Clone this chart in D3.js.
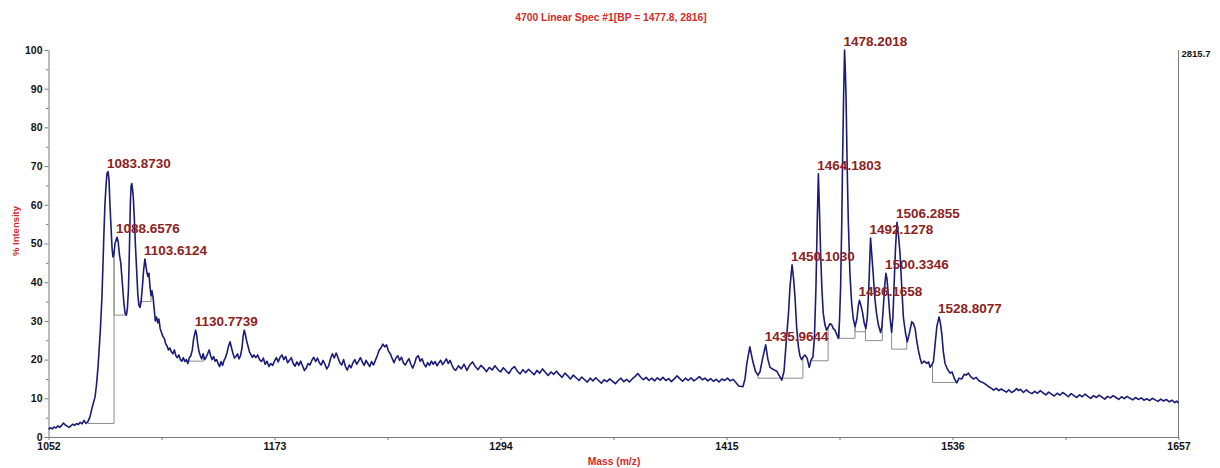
<!DOCTYPE html>
<html>
<head>
<meta charset="utf-8">
<script src="https://cdn.jsdelivr.net/npm/d3@7/dist/d3.min.js"></script>
<style>
  html, body { margin: 0; padding: 0; background: #fff; }
  svg { display: block; font-family: "Liberation Sans", Arial, sans-serif; }
</style>
</head>
<body>
<svg id="chart" width="1220" height="468"></svg>
<script>
// ---- data -------------------------------------------------------------
const titleText = "4700 Linear Spec #1[BP = 1477.8, 2816]";
const xTitle = "Mass (m/z)";
const yTitle = "% Intensity";
const rightLabel = "2815.7";

const xTicks = [1052, 1173, 1294, 1415, 1536, 1657];
const yTicks = [0, 10, 20, 30, 40, 50, 60, 70, 80, 90, 100];

// labelled peaks: [m/z, % intensity]
const peaks = [
  [1083.8730, 68.6], [1088.6576, 51.6], [1103.6124, 46.0], [1130.7739, 27.6],
  [1435.9644, 23.8], [1450.1030, 44.5], [1464.1803, 68.0], [1478.2018, 100],
  [1486.1658, 35.3], [1492.1278, 51.4], [1500.3346, 42.3], [1506.2855, 55.5],
  [1528.8077, 31.0]
];

// integration baselines: [start m/z, end m/z, level %]
const baselines = [
  [1073.1, 1087.1, 3.5], [1087.1, 1094.0, 31.5], [1101.0, 1106.9, 35.0],
  [1126.0, 1134.9, 19.6], [1431.8, 1455.9, 15.2], [1460.2, 1469.4, 19.7],
  [1475.5, 1483.8, 25.5], [1483.8, 1489.4, 27.2], [1489.4, 1498.4, 24.9],
  [1503.4, 1511.5, 22.7], [1525.3, 1538.5, 14.1]
];

// spectrum trace: [m/z, % intensity]
const spectrum = [
  [1052,2.0],[1053,2.4],[1054,2.1],[1055,2.6],[1056,2.3],[1057,2.9],[1058,2.5],[1059,3.0],
  [1060,3.6],[1061,3.1],[1062,2.8],[1063,2.5],[1064,2.9],[1065,3.3],[1066,3.0],[1067,3.5],
  [1068,3.2],[1069,3.8],[1070,3.4],[1071,4.3],[1072,3.5],[1073,3.9],[1074.2,5.2],[1075.3,7.5],
  [1076.9,10.3],[1077.7,13.5],[1078.5,18],[1079.3,24],[1079.8,28],[1080.6,36],[1081.2,45],
  [1081.7,53],[1082.2,60],[1082.8,65],[1083.3,68],[1083.873,68.6],[1084.4,66.5],[1084.9,60],
  [1085.5,54],[1086.0,49],[1086.5,46.5],[1087.1,47.5],[1087.6,50],[1088.6576,51.6],[1089.3,50.5],
  [1090,47],[1090.7,45],[1091.5,40],[1092.3,35],[1093,32],[1093.6,31.5],[1094.2,33],[1094.8,38],
  [1095.3,48],[1095.8,60],[1096.2,64.8],[1096.6,65.5],[1097,64],[1097.4,62],[1097.9,57],
  [1098.5,50],[1099.2,43],[1099.8,37],[1100.4,34],[1101,33.5],[1101.6,35],[1102.3,39],
  [1102.9,43],[1103.6124,46],[1104.2,44],[1104.7,42.5],[1105.2,41.5],[1105.8,42.3],[1106.3,39],
  [1106.9,36.5],[1107.4,37.8],[1108,36],[1108.6,33],[1109.2,30],[1109.9,31],[1110.5,29.5],
  [1111.1,30.5],[1111.8,28],[1112.5,27],[1113.2,26],[1114,25.5],[1114.8,24],[1115.5,23.5],
  [1116.2,22.5],[1117,23],[1117.8,22],[1118.6,21.5],[1119.4,22.5],[1120.2,21],[1121,20.5],
  [1121.8,21.2],[1122.6,20],[1123.4,19.6],[1124.2,20.5],[1125,19.5],[1125.8,20],[1126.6,19],
  [1127.4,20.5],[1128.2,21],[1129,22.5],[1129.6,25],[1130.2,26.5],[1130.7739,27.6],[1131.3,26.5],
  [1131.9,24],[1132.6,22],[1133.3,21],[1134,20.2],[1134.8,21.5],[1135.6,20],[1136.4,20.6],
  [1137.2,21.5],[1138,22.5],[1138.8,21],[1139.6,20],[1140.4,20.8],[1141.2,19.6],[1142,20],
  [1142.8,19],[1143.6,18.2],[1144.4,19.5],[1145.2,18.5],[1146,19.8],[1146.8,20.6],[1147.6,21.8],
  [1148.4,23.5],[1149.2,24.6],[1150,23],[1150.8,21.5],[1151.6,20.4],[1152.4,20.8],[1153.2,21.5],
  [1154,20.2],[1154.8,21],[1155.6,23],[1156.2,26],[1156.8,27.6],[1157.4,26.5],[1158,25],
  [1158.8,23.5],[1159.6,22],[1160.4,21.3],[1161.2,20.6],[1162,21.2],[1163,20.5],[1164,21.2],
  [1165,20],[1166,19.5],[1167,20.4],[1168,18.8],[1169,19.6],[1170,18.2],[1171,19],[1172,18.5],
  [1173,19.6],[1174,20.5],[1175,19.4],[1176,20.6],[1177,21.2],[1178,20],[1179,20.8],[1180,19.2],
  [1181,19.8],[1182,20.5],[1183,19],[1184,18.3],[1185,19.4],[1186,18.5],[1187,19.6],[1188,18.4],
  [1189,17.2],[1190,17.8],[1191,19],[1192,18.6],[1193,19.8],[1194,20.6],[1195,19.5],[1196,20.4],
  [1197,19.2],[1198,18.6],[1199,19.8],[1200,18.8],[1201,17.6],[1202,18.4],[1203,20.2],[1204,21.5],
  [1205,20.4],[1206,21.7],[1207,20.5],[1208,19.2],[1209,18.6],[1210,20],[1211,18.2],[1212,17.3],
  [1213,18.6],[1214,17.9],[1215,19.2],[1216,20],[1217,18.8],[1218,19.6],[1219,20.5],[1220,19.4],
  [1221,18.5],[1222,19.8],[1223,19],[1224,18.2],[1225,19.5],[1226,18.6],[1227,19.8],[1228,21],
  [1229,22.4],[1230,23],[1231,24],[1232,23.3],[1233,23.8],[1234,22.2],[1235,21.5],[1236,20.3],
  [1237,19.2],[1238,20.4],[1239,21],[1240,19.8],[1241,20.6],[1242,19.2],[1243,18.6],[1244,19.5],
  [1245,20.2],[1246,18.8],[1247,17.8],[1248,19],[1249,20.6],[1250,21],[1251,19.6],[1252,20.2],
  [1253,18.9],[1254,18.1],[1255,19.2],[1256,18.5],[1257,19.6],[1258,18.8],[1259,19.5],[1260,18.4],
  [1261,19.2],[1262,19.8],[1263,18.7],[1264,19.4],[1265,20.2],[1266,19],[1267,19.8],[1268,18.6],
  [1269,17.6],[1270,17.2],[1271.5,18.4],[1273,17.6],[1274.5,18.8],[1276,17.2],[1277.5,18.6],
  [1279,19.4],[1280.5,18.2],[1282,17.4],[1283.5,18.5],[1285,17.8],[1286.5,16.9],[1288,18],
  [1289.5,17.3],[1291,18.4],[1292.5,17.5],[1294,16.8],[1295.5,17.9],[1297,17.1],[1298.5,16.4],
  [1300,17.6],[1301.5,18.2],[1303,17],[1304.5,16.3],[1306,17.4],[1307.5,16.6],[1309,17.5],
  [1310.5,16.8],[1312,16.1],[1313.5,17.2],[1315,16.5],[1316.5,17.6],[1318,16.7],[1319.5,15.9],
  [1321,16.8],[1322.5,16.2],[1324,17],[1325.5,16.1],[1327,15.4],[1328.5,16.5],[1330,15.8],
  [1331.5,15],[1333,16],[1334.5,15.3],[1336,14.6],[1337.5,15.5],[1339,14.8],[1340.5,14.2],
  [1342,15.2],[1343.5,14.5],[1345,15.3],[1346.5,14.6],[1348,13.9],[1349.5,14.8],[1351,14.3],
  [1352.5,15],[1354,14.4],[1355.5,13.8],[1357,14.6],[1358.5,15.2],[1360,14.3],[1361.5,14.9],
  [1363,14.2],[1364.5,15],[1366,15.6],[1367.5,16.4],[1369,15.5],[1370.5,14.8],[1372,15.4],
  [1373.5,14.6],[1375,15.2],[1376.5,14.5],[1378,15.3],[1379.5,14.7],[1381,15.4],[1382.5,14.6],
  [1384,15.1],[1385.5,14.3],[1387,15],[1388.5,15.8],[1390,15.1],[1391.5,14.4],[1393,15.2],
  [1394.5,14.6],[1396,15.3],[1397.5,14.5],[1399,15],[1400.5,15.6],[1402,14.8],[1403.5,15.2],
  [1405,14.5],[1406.5,15.1],[1408,14.4],[1409.5,14.9],[1411,14.2],[1412.5,15],[1414,14.6],
  [1415.5,15.2],[1417,14.5],[1418.5,14.9],[1420,14.1],[1421.5,13.2],[1423.8,13],[1424.9,15],
  [1425.9,19],[1427.5,23.3],[1429.1,19.5],[1430.5,17],[1431.8,16],[1432.9,16.8],[1434.2,20],
  [1435.9644,23.8],[1437.2,20],[1438.3,18],[1439.9,17.5],[1441.9,17],[1443.1,16],[1444.6,14.7],
  [1445.8,17],[1447.2,26],[1448.2,32],[1449.0,38.8],[1450.103,44.5],[1450.9,41],[1451.7,36],
  [1452.6,28],[1453.5,23.3],[1454.3,21],[1455.2,20],[1456.2,20.8],[1457.0,21.2],[1458.2,20.3],
  [1459.3,18],[1460.2,19.8],[1461.3,20.8],[1462.1,26],[1462.9,38.8],[1463.6,56],[1464.1803,68],
  [1464.8,58],[1465.4,47.5],[1466.1,38],[1466.8,32],[1467.7,29],[1468.6,27.6],[1469.6,28.5],
  [1470.4,29.3],[1471.3,29],[1472.2,28],[1473.1,27.6],[1474.0,26.5],[1474.9,25.5],[1475.5,30],
  [1476.1,38.8],[1476.7,55],[1477.2,73],[1477.7,88],[1478.2018,100],[1478.6,95],[1479.0,88],
  [1479.6,70],[1480.2,56],[1481.1,42],[1482.0,34.6],[1482.9,30.5],[1483.8,28.5],[1484.8,30.5],
  [1485.6,34],[1486.1658,35.3],[1487.0,34],[1487.9,32],[1488.7,29.5],[1489.6,28],[1490.4,31],
  [1491.2,38.8],[1492.1278,51.4],[1492.8,47],[1493.5,42.4],[1494.4,36],[1495.3,32],[1496.3,29],
  [1497.5,27],[1498.2,28.5],[1498.9,33],[1499.7,39],[1500.3346,42.3],[1500.9,41],[1501.6,37],
  [1502.5,31],[1503.4,27],[1504.1,31],[1504.7,38.8],[1505.5,49],[1506.2855,55.5],[1507.1,52],
  [1507.9,47.5],[1508.8,39],[1509.7,31],[1510.8,27],[1511.8,24.6],[1513.0,27],[1514.2,29.8],
  [1515.1,29.3],[1516.0,28],[1516.8,25],[1517.7,22.5],[1518.6,20.5],[1519.5,19],[1520.8,19.6],
  [1522.2,19],[1523.2,19.4],[1524.0,18],[1524.8,18.6],[1525.8,19.5],[1526.7,24],[1527.6,28.5],
  [1528.8077,31],[1529.5,29.5],[1530.3,26.5],[1531.1,22],[1532.0,19],[1533.3,17.5],[1534.7,16.5],
  [1535.8,16.8],[1537.1,15],[1538.3,14],[1539.5,15.2],[1541.0,15],[1542.2,16.2],[1543.3,16],
  [1544.5,16.5],[1545.7,15.6],[1547.2,15],[1548.7,15.4],[1550.0,14.6],[1551.4,14.2],[1552.6,14],
  [1554.1,13.5],[1555.4,13],[1556.8,12.6],[1558.0,12.1],[1559.5,12.6],[1560.8,12],[1562.2,12.4],
  [1563.4,12],[1564.9,11.6],[1566.2,12.2],[1567.6,11.5],[1568.8,11.8],[1570.3,12.5],[1571.3,12],
  [1572.4,12.3],[1574,11.5],[1575.5,12.2],[1577,11.6],[1578.5,11.2],[1580,11.8],[1581.5,11.3],
  [1583,12],[1584.5,11.4],[1586,10.9],[1587.5,11.6],[1589,11.1],[1590.5,10.6],[1592,11.3],
  [1593.5,10.8],[1595,11.5],[1596.5,11],[1598,10.4],[1599.5,11.2],[1601,10.7],[1602.5,10.2],
  [1604,10.9],[1605.5,10.4],[1607,11.1],[1608.5,10.5],[1610,10],[1611.5,10.7],[1613,10.2],
  [1614.5,10.8],[1616,10.3],[1617.5,9.8],[1619,10.5],[1620.5,10.1],[1622,10.7],[1623.5,10.2],
  [1625,9.7],[1626.5,10.4],[1628,9.9],[1629.5,10.5],[1631,10],[1632.5,9.6],[1634,10.2],
  [1635.5,9.7],[1637,10.1],[1638.5,9.5],[1640,9.9],[1641.5,9.4],[1643,10],[1644.5,9.6],
  [1646,9.2],[1647.5,9.8],[1649,9.3],[1650.5,9.7],[1652,9.1],[1653.5,9.5],[1655,8.9],
  [1656,9.3],[1657,8.7]
];

// ---- layout -----------------------------------------------------------
const svg = d3.select("#chart");
const x = d3.scaleLinear().domain([xTicks[0], xTicks[xTicks.length - 1]]).range([48.5, 1178.5]);
const y = d3.scaleLinear().domain([0, 100]).range([437, 50]);

const axisGrey = "#7a7a7a";
const labelRed = "#8c2222";
const titleRed = "#d42a2a";
const traceBlue = "#1c1c78";

// intensity of the trace at any m/z (linear between samples)
const bis = d3.bisector(d => d[0]).left;
function traceAt(m) {
  const i = Math.max(1, Math.min(spectrum.length - 1, bis(spectrum, m)));
  const a = spectrum[i - 1], b = spectrum[i];
  const t = (m - a[0]) / (b[0] - a[0]);
  return a[1] + t * (b[1] - a[1]);
}

// title
svg.append("text")
  .attr("x", 611).attr("y", 21)
  .attr("text-anchor", "middle")
  .attr("font-size", "10.3px").attr("font-weight", "bold")
  .attr("fill", titleRed)
  .text(titleText);

// left axis with minor ticks every 5 %
const yMinor = d3.range(5, 100, 10);
svg.append("g")
  .attr("transform", "translate(48.5,0)")
  .call(d3.axisLeft(y).tickValues(yMinor).tickSize(2.5).tickFormat(""))
  .call(g => g.select(".domain").remove())
  .call(g => g.selectAll("line").attr("stroke", axisGrey));
const yAxis = svg.append("g")
  .attr("transform", "translate(48.5,0)")
  .call(d3.axisLeft(y).tickValues(yTicks).tickSize(4).tickPadding(2).tickSizeOuter(0));
yAxis.select(".domain").attr("stroke", axisGrey);
yAxis.selectAll("line").attr("stroke", axisGrey);
yAxis.selectAll("text")
  .attr("font-size", "10.5px").attr("font-weight", "bold")
  .attr("font-family", "'Liberation Sans', Arial, sans-serif")
  .attr("fill", "#111");

// bottom axis with minor ticks halfway between labels
const xMinor = d3.pairs(xTicks).map(p => (p[0] + p[1]) / 2);
svg.append("g")
  .attr("transform", "translate(0,437)")
  .call(d3.axisBottom(x).tickValues(xMinor).tickSize(3).tickFormat(""))
  .call(g => g.select(".domain").remove())
  .call(g => g.selectAll("line").attr("stroke", axisGrey));
const xAxis = svg.append("g")
  .attr("transform", "translate(0,437)")
  .call(d3.axisBottom(x).tickValues(xTicks).tickFormat(d3.format("d"))
    .tickSize(3).tickPadding(3).tickSizeOuter(0));
xAxis.select(".domain").attr("stroke", axisGrey);
xAxis.selectAll("line").attr("stroke", axisGrey);
xAxis.selectAll("text")
  .attr("font-size", "10.5px").attr("font-weight", "bold")
  .attr("font-family", "'Liberation Sans', Arial, sans-serif")
  .attr("fill", "#111");

// right-hand intensity scale line and absolute counts
svg.append("line")
  .attr("x1", x(1657)).attr("x2", x(1657))
  .attr("y1", y(100)).attr("y2", y(0))
  .attr("stroke", axisGrey);
svg.append("text")
  .attr("x", x(1657) + 3).attr("y", 57)
  .attr("font-size", "9.5px").attr("font-weight", "bold")
  .attr("fill", "#111")
  .text(rightLabel);

// axis titles
svg.append("text")
  .attr("transform", "translate(19,231) rotate(-90)")
  .attr("text-anchor", "middle")
  .attr("font-size", "9.5px").attr("font-weight", "bold")
  .attr("fill", titleRed)
  .text(yTitle);
svg.append("text")
  .attr("x", 614).attr("y", 465)
  .attr("text-anchor", "middle")
  .attr("font-size", "10.3px").attr("font-weight", "bold")
  .attr("fill", titleRed)
  .text(xTitle);

// integration baselines under the picked peaks
svg.append("g")
  .selectAll("path")
  .data(baselines)
  .join("path")
  .attr("fill", "none")
  .attr("stroke", "#8c8c8c")
  .attr("stroke-width", 1)
  .attr("d", d => `M${x(d[0])},${y(traceAt(d[0]))}V${y(d[2])}H${x(d[1])}V${y(traceAt(d[1]))}`);

// spectrum trace
svg.append("path")
  .datum(spectrum)
  .attr("fill", "none")
  .attr("stroke", traceBlue)
  .attr("stroke-width", 1.6)
  .attr("stroke-linejoin", "round")
  .attr("d", d3.line().x(d => x(d[0])).y(d => y(d[1])));

// peak labels
svg.append("g")
  .selectAll("text")
  .data(peaks)
  .join("text")
  .attr("x", d => x(d[0]) - 1)
  .attr("y", d => y(d[1]) - 4)
  .attr("font-size", "13.5px").attr("font-weight", "bold")
  .attr("fill", labelRed)
  .text(d => d[0].toFixed(4));
</script>
</body>
</html>
